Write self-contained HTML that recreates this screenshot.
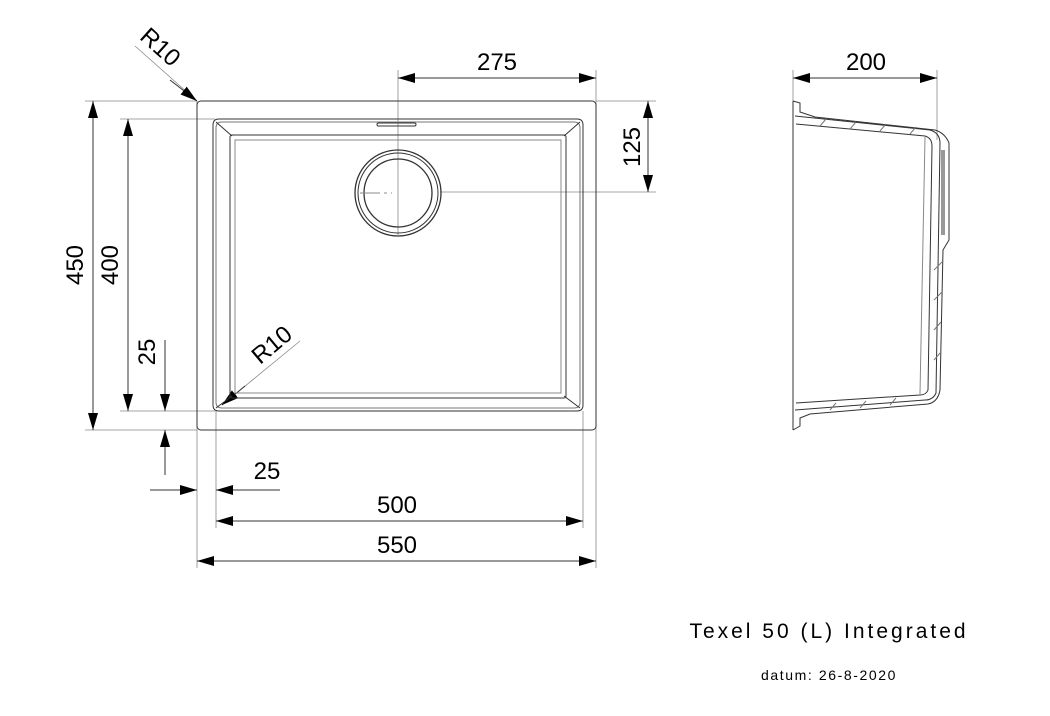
<!DOCTYPE html>
<html><head><style>html,body{margin:0;padding:0;background:#fff}svg{display:block}</style></head>
<body>
<svg width="1050" height="716" viewBox="0 0 1050 716" xmlns="http://www.w3.org/2000/svg" font-family="Liberation Sans, sans-serif">
<defs>
<marker id="a" viewBox="0 0 17 10" refX="17" refY="5" markerWidth="17" markerHeight="10" markerUnits="userSpaceOnUse" orient="auto-start-reverse" preserveAspectRatio="none"><path d="M0,0 L17,5 L0,10z" fill="#000"/></marker>
</defs>
<g fill="none" stroke="#333" stroke-width="1">
<g stroke="#888" stroke-width="0.8">
<line x1="85" y1="101" x2="197" y2="101"/>
<line x1="85" y1="430" x2="197" y2="430"/>
<line x1="120" y1="119" x2="215" y2="119"/>
<line x1="120" y1="411" x2="215" y2="411"/>
<line x1="197" y1="101" x2="197" y2="568"/>
<line x1="216" y1="411" x2="216" y2="528"/>
<line x1="596" y1="70" x2="596" y2="568"/>
<line x1="583" y1="411" x2="583" y2="528"/>
<line x1="596" y1="101" x2="656" y2="101"/>
<line x1="440" y1="192" x2="656" y2="192"/>
<line x1="398" y1="70" x2="398" y2="235"/>
<line x1="793" y1="70" x2="793" y2="101"/>
<line x1="937" y1="70" x2="937" y2="140"/>
<line x1="135" y1="46" x2="197" y2="101"/>
<line x1="300" y1="341" x2="222" y2="405"/>
</g>
<line x1="93" y1="101" x2="93" y2="430" marker-start="url(#a)" marker-end="url(#a)"/>
<line x1="128" y1="119" x2="128" y2="411" marker-start="url(#a)" marker-end="url(#a)"/>
<line x1="165" y1="340" x2="165" y2="411" marker-end="url(#a)"/>
<line x1="165" y1="475" x2="165" y2="430" marker-end="url(#a)"/>
<line x1="150" y1="490" x2="197" y2="490" marker-end="url(#a)"/>
<line x1="280" y1="490" x2="216" y2="490" marker-end="url(#a)"/>
<line x1="216" y1="521" x2="583" y2="521" marker-start="url(#a)" marker-end="url(#a)"/>
<line x1="197" y1="561" x2="596" y2="561" marker-start="url(#a)" marker-end="url(#a)"/>
<line x1="398" y1="78" x2="596" y2="78" marker-start="url(#a)" marker-end="url(#a)"/>
<line x1="793" y1="78" x2="937" y2="78" marker-start="url(#a)" marker-end="url(#a)"/>
<line x1="648" y1="101" x2="648" y2="192" marker-start="url(#a)" marker-end="url(#a)"/>
<line x1="170" y1="80" x2="197" y2="101" marker-end="url(#a)"/>
<line x1="245" y1="386" x2="222" y2="405" marker-end="url(#a)"/>
<rect x="197" y="101" width="399" height="329" rx="4"/>
<path d="M219,119 H577 Q583,119 583,125 V405 Q583,411 577,411 H219 Q213,411 213,405 V125 Q213,119 219,119z"/>
<path d="M222,122 H574 Q580,122 580,128 V402 Q580,408 574,408 H222 Q216,408 216,402 V128 Q216,122 222,122z" stroke="#777"/>
<rect x="230" y="135" width="336" height="263" rx="2"/>
<rect x="235" y="140" width="326" height="253" stroke="#888"/>
<line x1="216" y1="122" x2="232" y2="136"/><line x1="580" y1="122" x2="564" y2="136"/>
<line x1="216" y1="408" x2="232" y2="396"/><line x1="580" y1="408" x2="564" y2="396"/>
<rect x="377" y="123" width="39" height="3" rx="1.5"/>
<circle cx="398" cy="193" r="43" stroke-width="1.3"/>
<circle cx="398" cy="193" r="40"/>
<circle cx="398" cy="193" r="34" stroke-width="1.3"/>
<line x1="360" y1="193" x2="392" y2="193" stroke="#888" stroke-dasharray="20,4,3,4"/>
<path d="M793,101 V430"/>
<path d="M793,101 L800,103 L800,112 L815,117 L935,130 Q945,133 949,143 V240 L943,250 L940,390 Q938,402 928,404 L810,414 L800,418 V426 L793,430"/>
<path d="M795,116 L930,130 Q940,133 940,143 L936,393 Q933,400 925,400 L795,410"/>
<path d="M796,124 L925,136 Q932,138 932,146 L928,390 Q926,395 920,395 L796,403"/>
<line x1="925" y1="137" x2="920" y2="394" stroke="#888"/>
<line x1="942" y1="150" x2="942" y2="235"/><line x1="944" y1="150" x2="944" y2="235"/>
<g stroke="#777"><line x1="820" y1="126" x2="826" y2="119"/><line x1="850" y1="129" x2="856" y2="122"/><line x1="880" y1="131" x2="886" y2="124"/><line x1="910" y1="134" x2="916" y2="127"/>
<line x1="830" y1="410" x2="836" y2="403"/><line x1="860" y1="408" x2="866" y2="401"/><line x1="890" y1="405" x2="896" y2="398"/>
<line x1="934" y1="270" x2="942" y2="262"/><line x1="934" y1="300" x2="942" y2="292"/><line x1="934" y1="330" x2="941" y2="322"/><line x1="934" y1="360" x2="941" y2="352"/></g>
</g>
<g font-size="24" fill="#000" text-anchor="middle">
<text x="497" y="70">275</text>
<text x="866" y="70">200</text>
<text x="397" y="513">500</text>
<text x="397" y="553">550</text>
<text x="267" y="479">25</text>
<text transform="translate(640,147) rotate(-90)">125</text>
<text transform="translate(83,265) rotate(-90)">450</text>
<text transform="translate(118,265) rotate(-90)">400</text>
<text transform="translate(155,352) rotate(-90)">25</text>
<text transform="translate(155,53) rotate(42)">R10</text>
<text transform="translate(277,351) rotate(-40)">R10</text>
</g>
<text x="829" y="638" font-size="21" text-anchor="middle" fill="#000" letter-spacing="3">Texel 50 (L) Integrated</text>
<text x="829" y="680" font-size="14" text-anchor="middle" fill="#000" letter-spacing="1.6">datum: 26-8-2020</text>
</svg>
</body></html>
